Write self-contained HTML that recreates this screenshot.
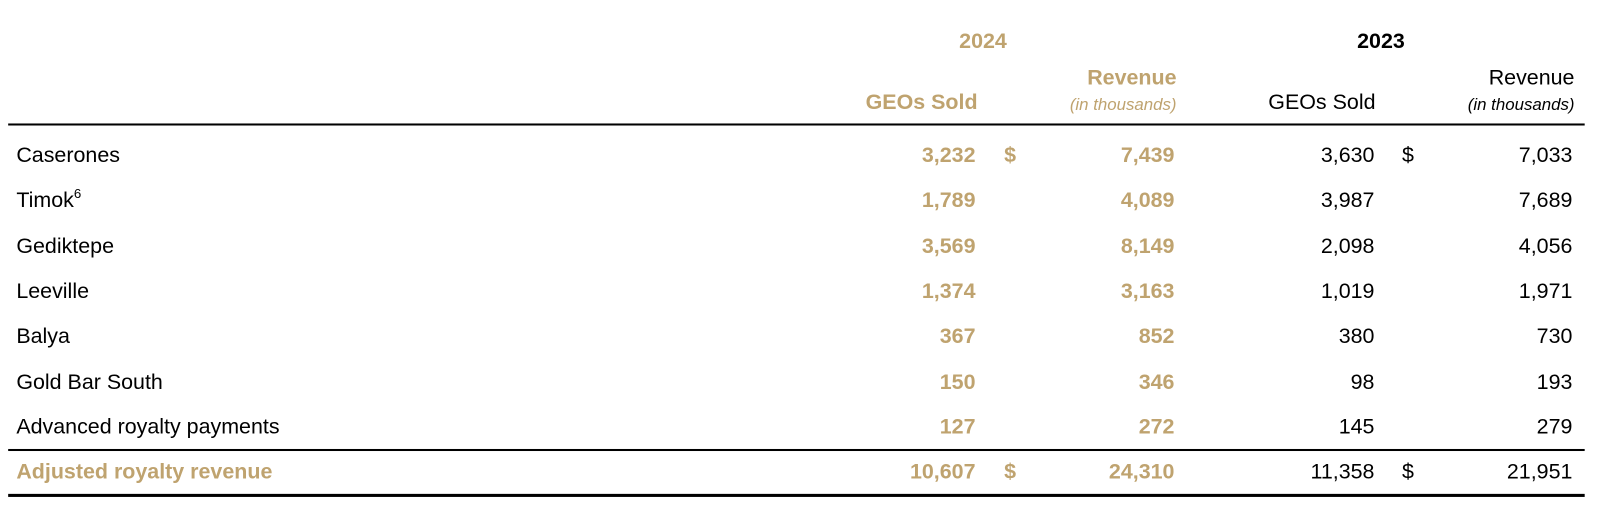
<!DOCTYPE html>
<html><head><style>
body{margin:0;width:1600px;height:528px;background:#fff;position:relative;font-family:"Liberation Sans",sans-serif;font-size:21px;color:#000;overflow:hidden}
#wrap{position:absolute;left:0;top:0;width:1568px;height:518px;transform:scale(1.0204);transform-origin:0 0}
.t{position:absolute;white-space:nowrap;line-height:24px;transform:translateY(-12px)}
.r{text-align:right}
.g{color:#BFA36F;font-weight:bold}
.i{font-style:italic;font-size:16.5px}
.line{position:absolute;left:8px;width:1545px;background:#000}
sup{font-size:13px;line-height:0;vertical-align:0;position:relative;top:-9px}
</style></head><body><div id="wrap">
<div class="t g" style="left:940px;top:41px">2024</div>
<div class="t" style="left:1330px;top:41px;font-weight:bold">2023</div>
<div class="t g r" style="right:415px;top:77px">Revenue</div>
<div class="t g r i" style="right:415px;top:103px;font-weight:normal">(in thousands)</div>
<div class="t g r" style="right:610px;top:101px">GEOs Sold</div>
<div class="t r" style="right:220px;top:101px">GEOs Sold</div>
<div class="t r" style="right:25px;top:77px">Revenue</div>
<div class="t r i" style="right:25px;top:103px">(in thousands)</div>
<div class="line" style="top:121px;height:2px"></div>
<div class="line" style="top:440px;height:2px"></div>
<div class="line" style="top:484px;height:3px"></div>
<div id="rows"></div>
</div>
<script>
const d=[["Caserones","3,232","7,439","3,630","7,033",1],["Timok<sup>6</sup>","1,789","4,089","3,987","7,689"],["Gediktepe","3,569","8,149","2,098","4,056"],["Leeville","1,374","3,163","1,019","1,971"],["Balya","367","852","380","730"],["Gold Bar South","150","346","98","193"],["Advanced royalty payments","127","272","145","279"],["Adjusted royalty revenue","10,607","24,310","11,358","21,951",1]];
let h="";d.forEach((r,i)=>{const y=153+i*44.3;const tot=i==7;
h+=`<div class="t ${tot?'g':''}" style="left:16px;top:${y}px">${r[0]}</div>`;
h+=`<div class="t g r" style="right:612px;top:${y}px">${r[1]}</div>`;
h+=`<div class="t g r" style="right:417px;top:${y}px">${r[2]}</div>`;
h+=`<div class="t r" style="right:221px;top:${y}px">${r[3]}</div>`;
h+=`<div class="t r" style="right:27px;top:${y}px">${r[4]}</div>`;
if(r[5]){h+=`<div class="t g" style="left:984px;top:${y}px">$</div><div class="t" style="left:1374px;top:${y}px">$</div>`;}
});document.getElementById("rows").innerHTML=h;
</script>
</body></html>
